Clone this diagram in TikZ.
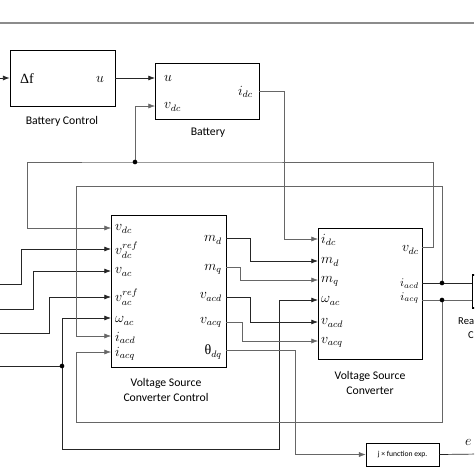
\documentclass[tikz,border=0pt]{standalone}
\usepackage{fontspec}
\setmainfont{Carlito}
\newfontfamily\serif{Liberation Serif}
\usetikzlibrary{arrows.meta}

\tikzset{
	blk/.style={draw, line width=0.7pt, inner sep=0pt},
	wire/.style={line width=0.6pt, black!85},
	gwire/.style={line width=0.45pt, black!60},
	arr/.style={-{Latex[length=2mm,width=1.5mm]}, },
	pinl/.style={anchor=west, inner sep=0pt, font=\large},
	pinr/.style={anchor=east, inner sep=0pt, font=\large},
	caption/.style={align=center, inner sep=0pt, font=\fontsize{10}{13.5}\selectfont},
	dot/.style={circle, fill=black, inner sep=0pt, minimum size=1.4mm},
}

\begin{document}
\begin{tikzpicture}[x=0.03cm, y=-0.03cm]
			%%%%% FRAME %%%%%
			\useasboundingbox (0,0) rectangle (474,474);
			\clip (0,0) rectangle (474,474);
			
			\draw[black!45, line width=1.2pt] (0,23) -- (474,23);
			
			%%%%% BLOCKS %%%%%
			\node[blk, minimum width=3.15cm, minimum height=1.68cm] (bctrl) at (62.5,78) {};
			\node[inner sep=0pt, font=\serif\large] (bctrl-df) at (27,79) {Δf};
			\node[inner sep=0pt, font=\large] (bctrl-u) at (100,79) {$u$};
			\node[caption] (bctrl-cap) at (62,121) {Battery Control};
			
			\node[blk, minimum width=3.12cm, minimum height=1.68cm] (batt) at (207,91) {};
			\node[pinl] (batt-ul) at (164,78) {$u$};
			\node[pinl] (batt-vdcl) at (164,107) {$v_{dc}$};
			\node[pinr] (batt-idcl) at (253,92) {$i_{dc}$};
			\node[caption] (batt-cap) at (208,133) {Battery};
			
			\node[blk, minimum width=3.45cm, minimum height=4.56cm] (vscc) at (168.5,291) {};
			\node[pinl] (vscc-l1) at (115,229) {$v_{dc}$};
			\node[pinl] (vscc-l2) at (115,250) {$v_{dc}^{ref}$};
			\node[pinl] (vscc-l3) at (115,272) {$v_{ac}$};
			\node[pinl] (vscc-l4) at (115,297) {$v_{\vphantom{d}ac}^{ref}$};
			\node[pinl] (vscc-l5) at (115,321) {$\omega_{ac}$};
			\node[pinl] (vscc-l6) at (115,338) {$i_{acd}$};
			\node[pinl] (vscc-l7) at (115,354) {$i_{acq}$};
			\node[pinr] (vscc-r1) at (222,240) {$m_d$};
			\node[pinr] (vscc-r2) at (222,269) {$m_q$};
			\node[pinr] (vscc-r3) at (222,297) {$v_{acd}$};
			\node[pinr] (vscc-r4) at (222,322) {$v_{acq}$};
			\node[pinr] (vscc-r5) at (222,352) {{\serif θ}$_{dq}$};
			\node[caption] (vscc-cap) at (166,390) {Voltage Source\\Converter Control};
			
			\node[blk, minimum width=3.12cm, minimum height=3.93cm] (vsc) at (370,293.5) {};
			\node[pinl] (vsc-l1) at (321,240) {$i_{dc}$};
			\node[pinl] (vsc-l2) at (321,262) {$m_d$};
			\node[pinl] (vsc-l3) at (321,281) {$m_q$};
			\node[pinl] (vsc-l4) at (321,301) {$\omega_{ac}$};
			\node[pinl] (vsc-l5) at (321,323) {$v_{acd}$};
			\node[pinl] (vsc-l6) at (321,342) {$v_{acq}$};
			\node[pinr] (vsc-r1) at (419,250) {$v_{dc}$};
			\node[pinr, font=\normalsize] (vsc-r2) at (419,284) {$i_{acd}$};
			\node[pinr, font=\normalsize] (vsc-r3) at (419,298) {$i_{acq}$};
			\node[caption] (vsc-cap) at (370,383) {Voltage Source\\Converter};
			
			\node[blk, line width=0.6pt, minimum width=2.19cm, minimum height=0.69cm, font=\fontsize{6.5}{7}\selectfont] (jexp) at (402.5,454.5) {j × function exp.};
			
			\node[blk, line width=1.2pt, minimum width=2cm, minimum height=1cm] (rpc) at (506,291.5) {};
			\node[anchor=west, inner sep=0pt, font=\small] (rpc-cap1) at (458,321) {Rea};
			\node[anchor=west, inner sep=0pt, font=\small] (rpc-cap2) at (468,335) {C};
			\node[anchor=west, inner sep=0pt, font=\large] (e-lbl) at (465,442) {$e$};
			
			%%%%% PORTS %%%%%
			\coordinate (in-df) at (0,78);
			\coordinate (in-vdcref) at (0,284);
			\coordinate (in-vac) at (0,309);
			\coordinate (in-vacref) at (0,333);
			\coordinate (in-w) at (0,366);
			\coordinate (out-e) at (480,454);
			
			\coordinate (batt-u) at (155,78);
			\coordinate (batt-vdc) at (155,106);
			\coordinate (batt-idc) at (259,91);
			
			\coordinate (vscc-vdc) at (111,228);
			\coordinate (vscc-vdcref) at (111,249);
			\coordinate (vscc-vac) at (111,271);
			\coordinate (vscc-vacref) at (111,297);
			\coordinate (vscc-w) at (111,318);
			\coordinate (vscc-iacd) at (111,336);
			\coordinate (vscc-iacq) at (111,352);
			\coordinate (vscc-md) at (226,238);
			\coordinate (vscc-mq) at (226,267);
			\coordinate (vscc-vacd) at (226,297);
			\coordinate (vscc-vacq) at (226,322);
			\coordinate (vscc-th) at (226,350);
			
			\coordinate (vsc-idc) at (318,239);
			\coordinate (vsc-md) at (318,261);
			\coordinate (vsc-mq) at (318,280);
			\coordinate (vsc-w) at (318,300);
			\coordinate (vsc-vacd) at (318,322);
			\coordinate (vsc-vacq) at (318,341);
			\coordinate (vsc-vdc) at (422,247);
			\coordinate (vsc-iacd) at (422,283);
			\coordinate (vsc-iacq) at (422,300);
			
			\coordinate (j1) at (135,162);
			\coordinate (j2) at (442,283);
			\coordinate (j3) at (442,300);
			\coordinate (j4) at (62,366);
			
			%%%%% WIRES %%%%%
			\draw[wire, arr] (in-df) -- (bctrl.west);
			\draw[wire, arr] (bctrl.east) -- (batt-u);
			\draw[gwire, arr] (j1) |- (batt-vdc);
			\draw[gwire, arr] (batt-idc) -- ++(25,0) |- (vsc-idc);
			\draw[gwire, arr] (vsc-vdc) -- ++(11,0) |- (j1) -- ++(-108,0) |- (vscc-vdc);
			
			\draw[wire, arr] (in-vdcref) -- ++(21,0) |- (vscc-vdcref);
			\draw[wire, arr] (in-vac) -- ++(33,0) |- (vscc-vac);
			\draw[wire, arr] (in-vacref) -- ++(49,0) |- (vscc-vacref);
			\draw[wire] (in-w) -- (j4);
			\draw[wire, arr] (j4) |- (vscc-w);
			\draw[wire, arr] (j4) -- ++(0,83) -- ++(217,0) |- (vsc-w);
			
			\draw[wire] (vsc-iacd) -- (rpc.west |- vsc-iacd);
			\draw[gwire] (vsc-iacq) -- (rpc.west |- vsc-iacq);
			\draw[gwire, arr] (j2) -- ++(0,-97) -- ++(-366,0) |- (vscc-iacd);
			\draw[gwire, arr] (j3) -- ++(0,122) -- ++(-366,0) |- (vscc-iacq);
			
			\draw[wire, arr] (vscc-md) -- ++(24,0) |- (vsc-md);
			\draw[gwire, arr] (vscc-mq) -- ++(14,0) |- (vsc-mq);
			\draw[wire, arr] (vscc-vacd) -- ++(24,0) |- (vsc-vacd);
			\draw[gwire, arr] (vscc-vacq) -- ++(16,0) |- (vsc-vacq);
			\draw[gwire, arr] (vscc-th) -- ++(69,0) |- (jexp.west);
			\draw[wire] (jexp.east) -- (out-e);
			
			\node[dot] (d1) at (j1) {};
			\node[dot] (d2) at (j2) {};
			\node[dot] (d3) at (j3) {};
			\node[dot] (d4) at (j4) {};
\end{tikzpicture}
\end{document}
